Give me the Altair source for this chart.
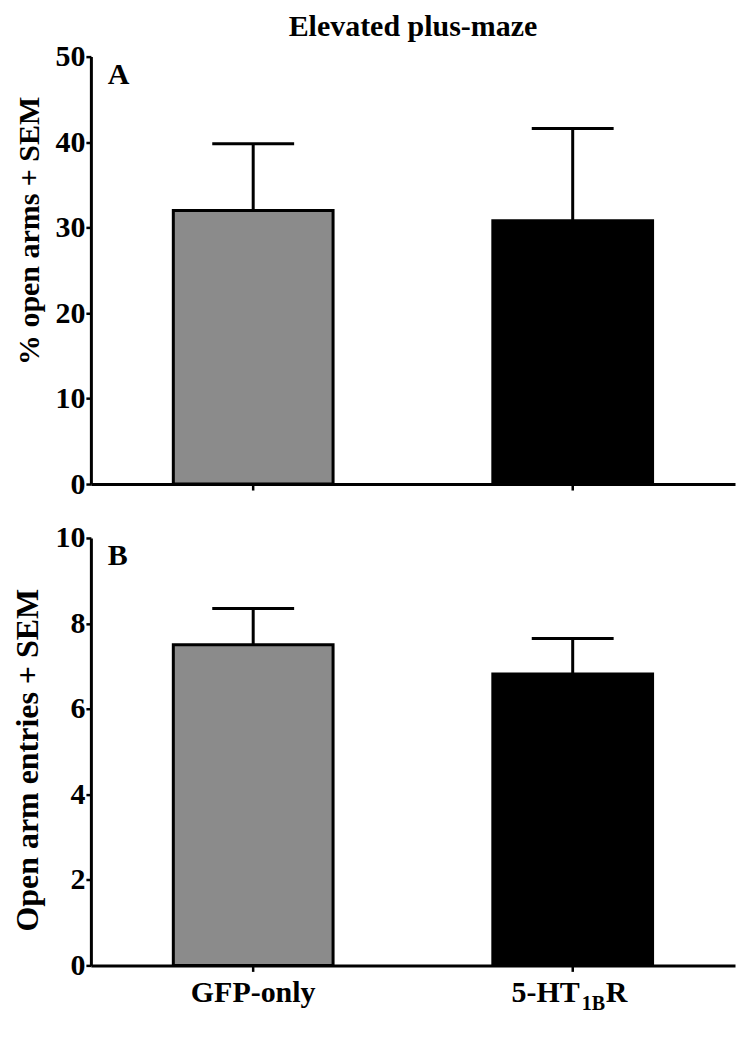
import altair as alt
import pandas as pd

# ---- data ----
groups = ["GFP-only", "5-HT1BR"]
bar_colors = ["#8b8b8b", "#000000"]
pct_open_mean = [32.0, 30.8]
pct_open_upper = [39.8, 41.6]
entries_mean = [7.5, 6.82]
entries_upper = [8.35, 7.65]
pct_ticks = [0, 10, 20, 30, 40, 50]
entries_ticks = [0, 2, 4, 6, 8, 10]
label_main = ["GFP-only", "5-HT"]
label_sub = ["", "1B"]
label_tail = ["", "R"]
title_text = ["Elevated plus-maze"]
panel_letters = ["A", "B"]
y_titles = ["% open arms + SEM", "Open arm entries + SEM"]

FONT = "Liberation Serif"
W = 645
HA = 428
HB = 428
FS = 30

df_a = pd.DataFrame({"group": groups, "mean": pct_open_mean,
                     "upper": pct_open_upper, "color": bar_colors})
df_b = pd.DataFrame({"group": groups, "mean": entries_mean,
                     "upper": entries_upper, "color": bar_colors})
df_lab = pd.DataFrame({"group": groups, "main": label_main,
                       "sub": label_sub, "tail": label_tail})

XSCALE = alt.Scale(paddingInner=0.5, paddingOuter=0.258)


def panel(df, height, ymax, ticks, ytitle, letter, title_y, title_fs):
    x = alt.X("group:N", sort=groups, scale=XSCALE,
              axis=alt.Axis(labels=False, title=None, ticks=True))
    y = alt.Y("mean:Q", scale=alt.Scale(domain=[0, ymax], nice=False),
              axis=alt.Axis(values=ticks, title=ytitle, titleY=title_y,
                            titleFontSize=title_fs))
    base = alt.Chart(df)
    err = base.mark_rule(color="black", strokeWidth=3, opacity=1).encode(
        x=x, y=y, y2="upper:Q")
    cap = base.mark_tick(color="black", thickness=3, size=82,
                         opacity=1).encode(x=x, y="upper:Q")
    bars = base.mark_bar(stroke="black", strokeWidth=3, opacity=1).encode(
        x=x, y=y, fill=alt.Fill("color:N", scale=None))
    let = alt.Chart(pd.DataFrame({"t": [letter]})).mark_text(
        font=FONT, fontWeight="bold", fontSize=FS, align="left",
        baseline="top", color="black").encode(
        text="t:N", x=alt.value(17), y=alt.value(3))
    return alt.layer(err, cap, bars, let).properties(width=W, height=height)


top = panel(df_a, HA, 50, pct_ticks, y_titles[0], panel_letters[0],
            HA / 2 - 40, 30)
ttl = alt.Chart(pd.DataFrame({"t": title_text})).mark_text(
    font=FONT, fontWeight="bold", fontSize=FS, align="center",
    baseline="alphabetic", color="black").encode(
    text="t:N", x=alt.value(W / 2), y=alt.value(-21))
top = alt.layer(top, ttl)

bottom = panel(df_b, HB, 10, entries_ticks, y_titles[1], panel_letters[1],
               HB / 2 + 8, 32)

xl = alt.X("group:N", sort=groups, scale=XSCALE)
lab_base = alt.Chart(df_lab)
ly = alt.value(HB + 37)
lab1 = lab_base.mark_text(font=FONT, fontWeight="bold", fontSize=FS,
                          align="center", baseline="alphabetic",
                          color="black").encode(
    x=xl, y=ly, text="main:N").transform_filter(alt.datum.group == groups[0])
lab2 = lab_base.mark_text(font=FONT, fontWeight="bold", fontSize=FS,
                          align="right", baseline="alphabetic", dx=7,
                          color="black").encode(
    x=xl, y=ly, text="main:N").transform_filter(alt.datum.group == groups[1])
lab3 = lab_base.mark_text(font=FONT, fontWeight="bold", fontSize=20,
                          align="left", baseline="alphabetic", dx=9, dy=8,
                          color="black").encode(
    x=xl, y=ly, text="sub:N").transform_filter(alt.datum.group == groups[1])
lab4 = lab_base.mark_text(font=FONT, fontWeight="bold", fontSize=FS,
                          align="left", baseline="alphabetic", dx=33,
                          color="black").encode(
    x=xl, y=ly, text="tail:N").transform_filter(alt.datum.group == groups[1])
bottom = alt.layer(bottom, lab1, lab2, lab3, lab4)

chart = alt.vconcat(top, bottom, spacing=24).properties(
    padding={"left": 4, "top": 3, "right": 5, "bottom": 5},
    background="white",
).configure_view(stroke=None).configure_axis(
    domainColor="black", domainWidth=3, tickColor="black", tickWidth=2.5,
    tickSize=5, labelPadding=1, labelFont=FONT, labelFontWeight="bold",
    labelFontSize=FS, labelColor="black", titleFont=FONT,
    titleFontWeight="bold", titleFontSize=FS, titleColor="black",
    titlePadding=10, grid=False, labelFlush=False,
).configure_axisX(tickSize=6)

chart.save("out.html", embed_options={"renderer": "svg", "actions": False})
